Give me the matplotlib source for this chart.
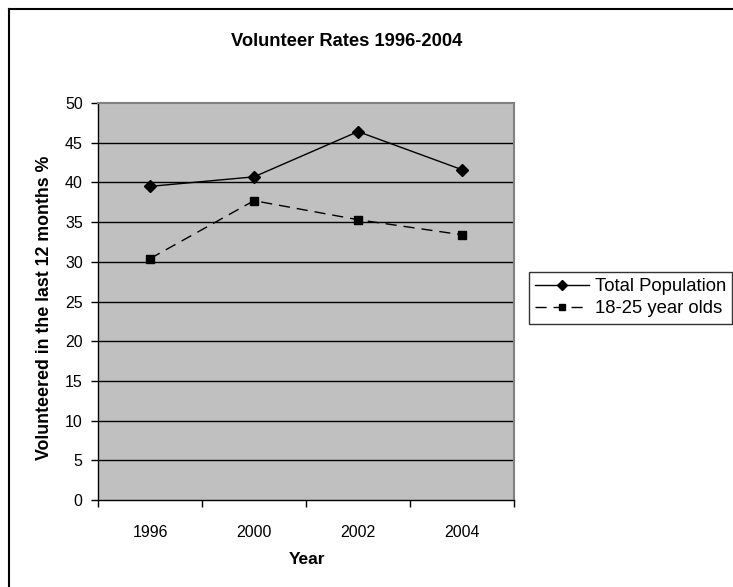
import matplotlib
matplotlib.use("Agg")
import matplotlib.pyplot as plt
from matplotlib.lines import Line2D

years = ["1996", "2000", "2002", "2004"]
total_population = [39.5, 40.7, 46.4, 41.6]
youth_18_25 = [30.4, 37.7, 35.3, 33.4]
y_ticks = [0, 5, 10, 15, 20, 25, 30, 35, 40, 45, 50]

plt.rcParams['font.family'] = ['Liberation Sans', 'DejaVu Sans']

fig = plt.figure(figsize=(7.33, 5.87), dpi=100)
ax = fig.add_axes([98 / 733, 1 - 500 / 587, 416 / 733, 397 / 587])
ax.set_facecolor('#C0C0C0')

x = list(range(len(years)))
ax.plot(x, total_population, color='black', lw=1, marker='D', markersize=6,
        label='Total Population', zorder=4)
ax.plot(x, youth_18_25, color='black', lw=1, marker='s', markersize=6,
        dashes=(8, 5), label='18-25 year olds', zorder=4)

ax.set_xlim(-0.5, len(years) - 0.5)
ax.set_ylim(0, 50)
ax.set_yticks(y_ticks)
ax.set_yticklabels([str(v) for v in y_ticks], fontsize=11.5)
for v in y_ticks[1:-1]:
    ax.axhline(v, color='black', lw=1, zorder=2)

# category axis: labels centred, ticks between categories
ax.set_xticks(x)
ax.set_xticklabels(years, fontsize=11.5)
ax.tick_params(axis='x', length=0, pad=18)
ax.set_xticks([i - 0.5 for i in range(len(years) + 1)], minor=True)
ax.tick_params(axis='x', which='minor', length=5, width=1, color='black', direction='out')
ax.tick_params(axis='y', length=5, width=1, color='black', direction='out', pad=6)

for side in ('top', 'right'):
    ax.spines[side].set_color('#808080')
    ax.spines[side].set_linewidth(1.5)
for side in ('left', 'bottom'):
    ax.spines[side].set_color('black')
    ax.spines[side].set_linewidth(1)

fig.text(307 / 733, 1 - 560 / 587, 'Year', fontsize=12.5, fontweight='bold',
         ha='center', va='center')
fig.text(45 / 733, 1 - 308 / 587, 'Volunteered in the last 12 months %', fontsize=12.8,
         fontweight='bold', ha='center', va='center', rotation=90)

fig.text(347 / 733, 1 - 41 / 587, 'Volunteer Rates 1996-2004', fontsize=13.2,
         fontweight='bold', ha='center', va='center')

leg = fig.legend(loc='upper left', bbox_to_anchor=(529 / 733, 1 - 272 / 587),
                 fontsize=13.3, frameon=True, fancybox=False, handlelength=2.9,
                 borderpad=0.35, labelspacing=0.25, handletextpad=0.3, borderaxespad=0)
leg.get_frame().set_edgecolor('black')
leg.get_frame().set_linewidth(1)
for h in leg.legend_handles:
    h.set_markersize(5)

# outer chart border (cut off at right and bottom)
fig.add_artist(Line2D([9 / 733, 9 / 733], [0, 1 - 9 / 587], color='black', lw=1.5,
                      transform=fig.transFigure))
fig.add_artist(Line2D([9 / 733, 1], [1 - 9 / 587, 1 - 9 / 587], color='black', lw=1.5,
                      transform=fig.transFigure))

fig.savefig('out.png', dpi=100)
